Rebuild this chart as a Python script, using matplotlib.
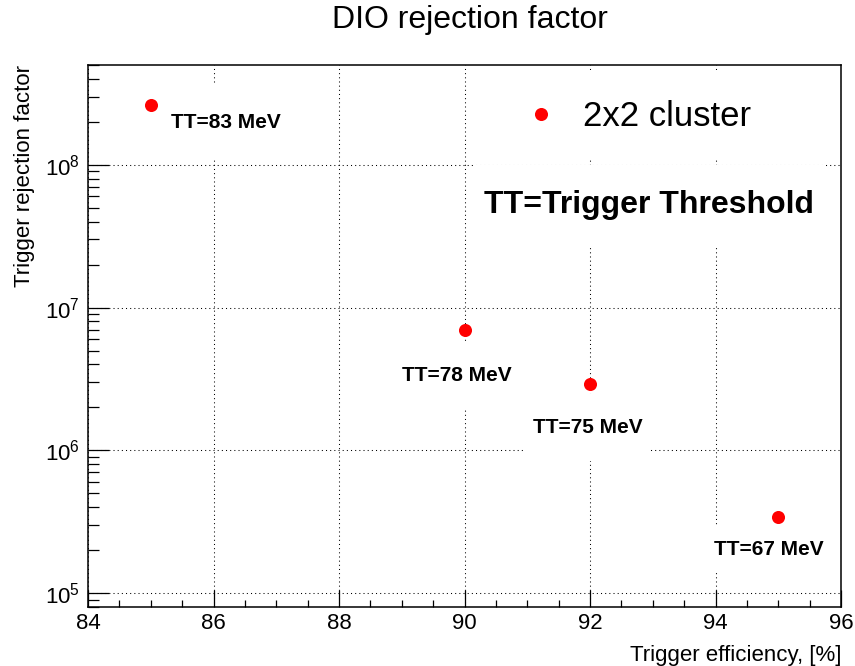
import matplotlib
matplotlib.use('Agg')
import matplotlib.pyplot as plt
from matplotlib.patches import Rectangle
from matplotlib.lines import Line2D
from matplotlib.ticker import MultipleLocator, LogLocator, LogFormatterMathtext, NullFormatter

# trigger working points, one per threshold
efficiency = [85, 90, 92, 95]              # [%]
rejection = [2.63e8, 7.0e6, 2.9e6, 3.4e5]  # DIO rejection factor
thresholds = [83, 78, 75, 67]              # [MeV]
series_name = '2x2 cluster'

# white text panes in NDC (x1, y1, x2, y2), ROOT TPaveText style
label_panes = [
    (0.190, 0.760, 0.338, 0.872),
    (0.461, 0.387, 0.608, 0.485),
    (0.614, 0.308, 0.761, 0.408),
    (0.826, 0.141, 0.973, 0.209),
]
note_pane = (0.555, 0.632, 0.963, 0.752)
legend_pane = (0.561, 0.763, 0.971, 0.892)

W, H = 855, 666
plt.rcParams['font.family'] = ['Liberation Sans', 'DejaVu Sans']
plt.rcParams['mathtext.fontset'] = 'custom'
plt.rcParams['mathtext.rm'] = 'Liberation Sans'
plt.rcParams['mathtext.default'] = 'regular'

fig = plt.figure(figsize=(W / 100, H / 100), dpi=100)
ax = fig.add_axes([88 / W, 1 - 607 / H, (841 - 88) / W, (607 - 65) / H])

ax.set_xlim(84, 96)
ax.set_yscale('log')
ax.set_ylim(8.0e4, 5.0e8)

ax.xaxis.set_major_locator(MultipleLocator(2))
ax.xaxis.set_minor_locator(MultipleLocator(0.5))
ax.yaxis.set_major_locator(LogLocator(base=10))
ax.yaxis.set_minor_locator(LogLocator(base=10, subs=range(2, 10)))
ax.yaxis.set_major_formatter(LogFormatterMathtext())
ax.yaxis.set_minor_formatter(NullFormatter())

ax.tick_params(which='both', direction='in', top=False, right=False, colors='black', width=0.9)
ax.tick_params(axis='x', which='major', length=12, pad=4, labelsize=16)
ax.tick_params(axis='x', which='minor', length=5)
ax.tick_params(axis='y', which='major', length=15, pad=6, labelsize=16)
ax.tick_params(axis='y', which='minor', length=7.6)
for sp in ax.spines.values():
    sp.set_linewidth(1.1)
    sp.set_color('black')

ax.grid(True, which='major', color='black', linestyle=(0, (1, 3)), linewidth=0.75)
ax.set_axisbelow(True)

ax.plot(efficiency, rejection, linestyle='none', marker='o', markersize=9.4,
        color='red', markeredgewidth=0, zorder=5)

def pane(box):
    x1, y1, x2, y2 = box
    ax.add_patch(Rectangle((x1, y1), x2 - x1, y2 - y1, transform=fig.transFigure,
                           facecolor='white', edgecolor='none', zorder=3, clip_on=False))
    return (x1 + x2) / 2, (y1 + y2) / 2

for box, tt in zip(label_panes, thresholds):
    cx, cy = pane(box)
    ax.text(cx, cy, f'TT={tt} MeV', transform=fig.transFigure, ha='center', va='center',
            fontsize=15, fontweight='bold', zorder=4)

cx, cy = pane(note_pane)
ax.text(cx, cy, 'TT=Trigger Threshold', transform=fig.transFigure, ha='center', va='center',
        fontsize=23, fontweight='bold', zorder=4)

pane(legend_pane)
handle = Line2D([], [], linestyle='none', marker='o', markersize=9.4, color='red', markeredgewidth=0)
leg = ax.legend([handle], [series_name], loc='center left', bbox_to_anchor=(524 / W, 1 - 117 / H),
                bbox_transform=fig.transFigure, frameon=False, fontsize=25, numpoints=1,
                handlelength=1.0, handletextpad=0.7, borderpad=0, borderaxespad=0)
leg.set_zorder(4)

fig.text(470 / W, 1 - 20 / H, 'DIO rejection factor', ha='center', va='center', fontsize=23)
ax.set_xlabel('Trigger efficiency, [%]', loc='right', fontsize=16, labelpad=8)
ax.set_ylabel('Trigger rejection factor', loc='top', fontsize=16, labelpad=7)

fig.savefig('out.png', dpi=100)
